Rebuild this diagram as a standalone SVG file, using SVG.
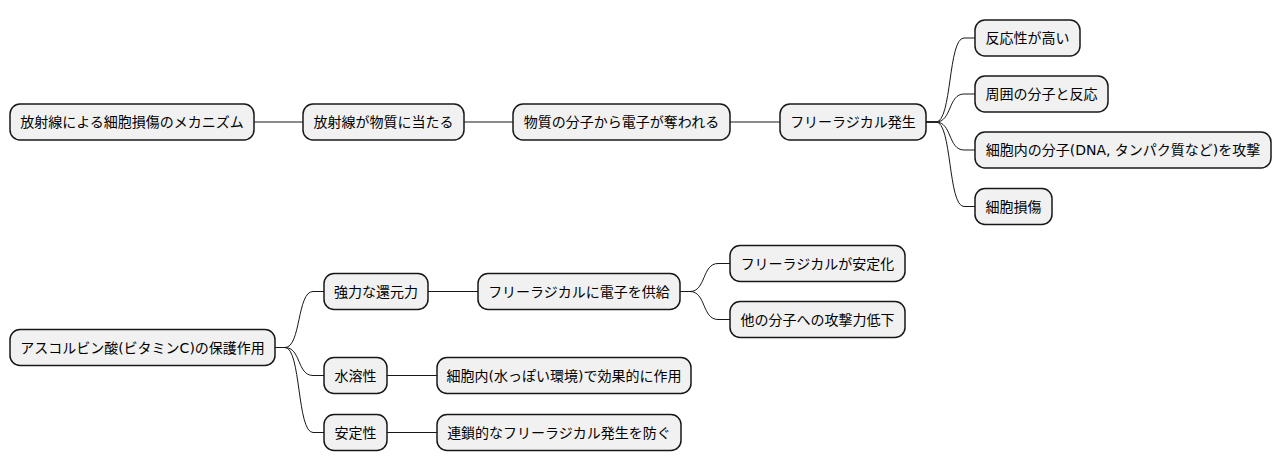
<svg xmlns="http://www.w3.org/2000/svg" width="1281" height="471" viewBox="0 0 1281 471">
<style>
.n rect{fill:#F1F1F1;stroke:#181818;stroke-width:1.5}
.n text{font-family:"DejaVu Sans","Noto Sans CJK JP",sans-serif;font-size:14px;fill:#000000;text-anchor:middle}
#edges path{fill:none;stroke:#181818;stroke-width:1}
</style>
<rect width="1281" height="471" fill="#FFFFFF"/>
<g id="edges">
<path d="M254,122 L303,122"/>
<path d="M464,122 L513,122"/>
<path d="M730,122 L780,122"/>
<path d="M926,122 L936,122 C952,122 948,38 964,38 L975,38"/>
<path d="M926,122 L936,122 C952,122 948,94 964,94 L975,94"/>
<path d="M926,122 L936,122 C952,122 948,150 964,150 L975,150"/>
<path d="M926,122 L936,122 C952,122 948,206.5 964,206.5 L975,206.5"/>
<path d="M275,347.5 L285,347.5 C301,347.5 297,291.5 313,291.5 L324,291.5"/>
<path d="M275,347.5 L285,347.5 C301,347.5 297,375.5 313,375.5 L324,375.5"/>
<path d="M275,347.5 L285,347.5 C301,347.5 297,432.5 313,432.5 L324,432.5"/>
<path d="M428,291.5 L478,291.5"/>
<path d="M387,375.5 L437,375.5"/>
<path d="M387,432.5 L437,432.5"/>
<path d="M680,291.5 L690,291.5 C706,291.5 702,263.5 718,263.5 L730,263.5"/>
<path d="M680,291.5 L690,291.5 C706,291.5 702,319.5 718,319.5 L730,319.5"/>
</g>
<g id="n1" class="n"><rect x="10" y="104" width="244" height="36" rx="10"/><text x="132" y="127">放射線による細胞損傷のメカニズム</text></g>
<g id="n2" class="n"><rect x="303" y="104" width="161" height="36" rx="10"/><text x="383.5" y="127">放射線が物質に当たる</text></g>
<g id="n3" class="n"><rect x="513" y="104" width="217" height="36" rx="10"/><text x="621.5" y="127">物質の分子から電子が奪われる</text></g>
<g id="n4" class="n"><rect x="780" y="104" width="146" height="36" rx="10"/><text x="853" y="127">フリーラジカル発生</text></g>
<g id="n5" class="n"><rect x="975" y="20" width="105" height="36" rx="10"/><text x="1027.5" y="43">反応性が高い</text></g>
<g id="n6" class="n"><rect x="975" y="76" width="133" height="36" rx="10"/><text x="1041.5" y="99">周囲の分子と反応</text></g>
<g id="n7" class="n"><rect x="975" y="132" width="296" height="36" rx="10"/><text x="1123" y="155">細胞内の分子(DNA, タンパク質など)を攻撃</text></g>
<g id="n8" class="n"><rect x="975" y="188.5" width="77" height="36" rx="10"/><text x="1013.5" y="211.5">細胞損傷</text></g>
<g id="n9" class="n"><rect x="10" y="329.5" width="265" height="36" rx="10"/><text x="142.5" y="352.5">アスコルビン酸(ビタミンC)の保護作用</text></g>
<g id="n10" class="n"><rect x="324" y="273.5" width="104" height="36" rx="10"/><text x="376" y="296.5">強力な還元力</text></g>
<g id="n11" class="n"><rect x="478" y="273.5" width="202" height="36" rx="10"/><text x="579" y="296.5">フリーラジカルに電子を供給</text></g>
<g id="n12" class="n"><rect x="730" y="245.5" width="175" height="36" rx="10"/><text x="817.5" y="268.5">フリーラジカルが安定化</text></g>
<g id="n13" class="n"><rect x="730" y="301.5" width="175" height="36" rx="10"/><text x="817.5" y="324.5">他の分子への攻撃力低下</text></g>
<g id="n14" class="n"><rect x="324" y="357.5" width="63" height="36" rx="10"/><text x="355.5" y="380.5">水溶性</text></g>
<g id="n15" class="n"><rect x="437" y="357.5" width="254" height="36" rx="10"/><text x="564" y="380.5">細胞内(水っぽい環境)で効果的に作用</text></g>
<g id="n16" class="n"><rect x="324" y="414.5" width="63" height="36" rx="10"/><text x="355.5" y="437.5">安定性</text></g>
<g id="n17" class="n"><rect x="437" y="414.5" width="244" height="36" rx="10"/><text x="559" y="437.5">連鎖的なフリーラジカル発生を防ぐ</text></g>
</svg>
